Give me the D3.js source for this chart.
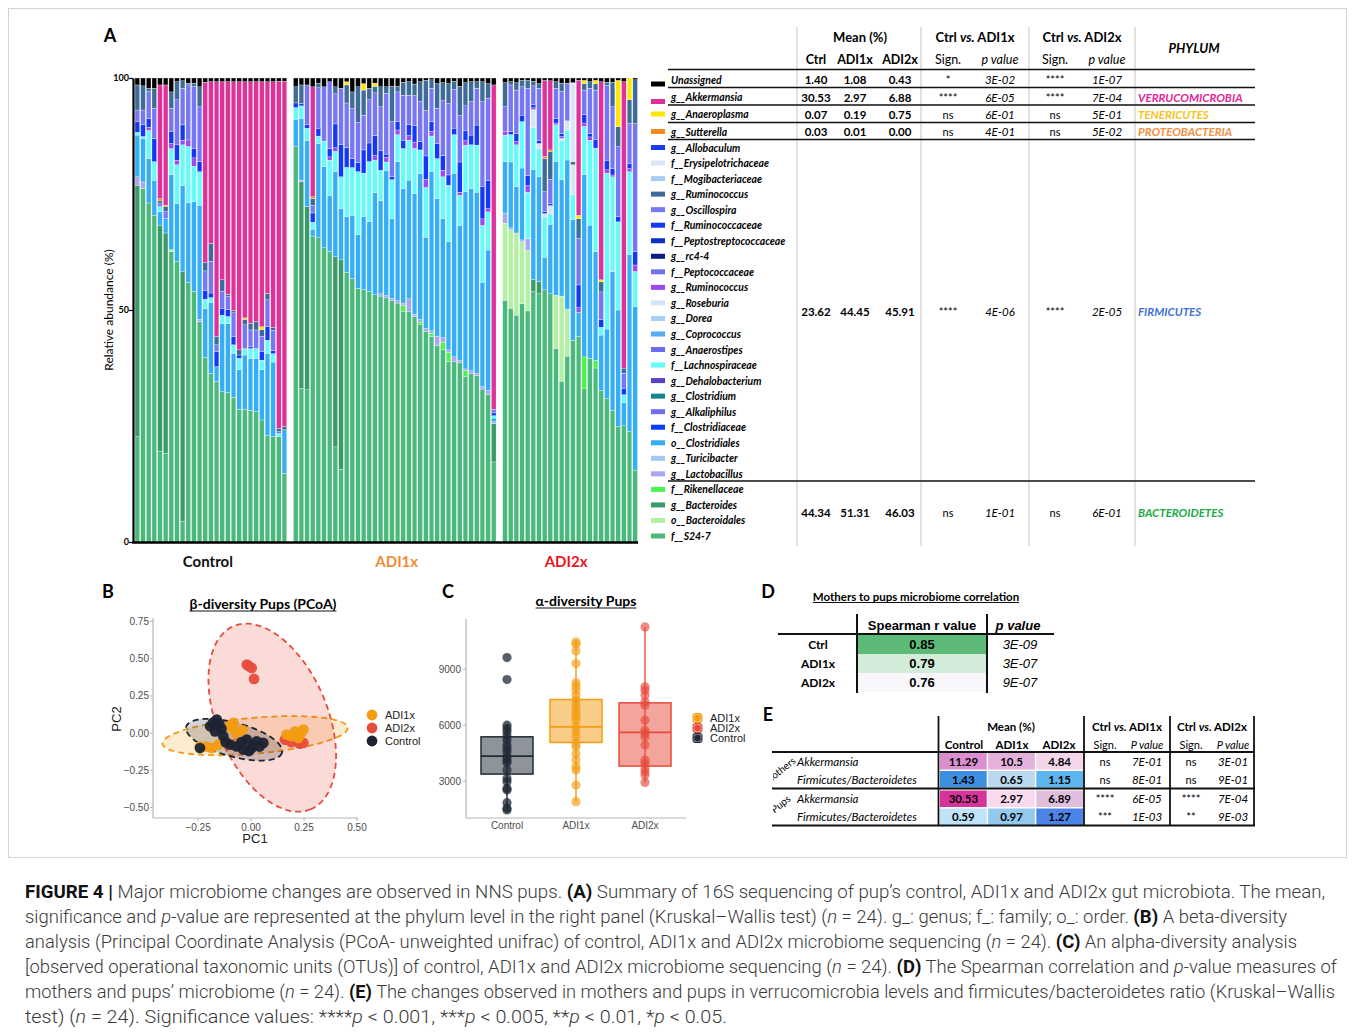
<!DOCTYPE html>
<html>
<head>
<meta charset="utf-8">
<script src="https://d3js.org/d3.v7.min.js"></script>
<style>
body{margin:0;background:#fff;}
svg{display:block;}
</style>
</head>
<body>
<div id="figure"></div>
<script>
// ---------- panel A : relative abundance per pup ----------
const groups = ['Control', 'ADI1x', 'ADI2x'];
const groupSizes = [27, 36, 24];
const groupColors = ['#111111', '#f08c36', '#e8161c'];

const s24 = [].concat(
  [22.7,76.2,72.4,70.3,19.6,19.1,62.6,60.4,4.5,56.1,54.0,47.5,39.9,36.7,34.6,32.4,32.2,31.2,28.6,28.6,28.4,28.1,26.3,22.9,22.7,22.7,14.8],
  [85.6,33.1,32.8,66.2,65.5,63.4,62.6,20.5,15.7,58.3,56.8,54.7,54.4,54.0,53.3,53.0,52.6,52.0,51.5,49.6,49.6,48.6,46.8,45.4,44.3,42.2,41.4,38.9,38.9,38.6,35.7,36.4,35.7,32.9,31.8,17.3],
  [52.1,50.4,48.9,51.4,49.6,53.9,53.5,53.9,53.5,41.7,34.6,39.9,43.5,44.3,33.0,39.6,37.5,32.7,30.9,28.4,24.9,24.9,23.8,15.5]);
const bales = [].concat(
  [0,0,0,0,0,0,0.4,0,0,0, 0,0,0,0,0,0,0,0,0,0, 0,0,0,0,0,0,0],
  [0,0,0,0,0,0,0,0,0,0, 0,0,0,0,0,0,0,0,0,0, 0,0,0,0,0,0,0,0,0,0, 0,0,0,0,0,0],
  [16.6,16.9,17.7,13.3,13.0,0,0,0,0,11.5, 18.3,10.1,0,0,0,0,0,0,0,0, 0,0,0,0]);
const bdes = [].concat(
  [54.2,0,0,0,48.7,47.5,0,0,53.7,0, 0,0,0,0,0,0,0,0,0,0, 0,0,0,0,0,0,0],
  [0,44.5,39.5,0,0,0,0,41.0,45.1,0, 0,0,0,0,0,0,0,0,0,0, 0,0,0,0,0,0,0,0,0,0, 0,0,0,0,0,8.3],
  [0,0,0,0,0,2.6,2.6,0,0,0, 0,0,0,0,0,0,0,0,0,0, 0,0,0,0]);
const rik = [].concat(
  [0,0,0,0,0,0,0,0,0,0, 0,0,0,0,0,0,0,0,0,0, 0,0,0,0,0,0,0],
  [0,0,0,0,0,0,0,0,0,0, 0,0,0,0,0,0,0,0,0,1.4, 0,0,0.6,0,0.7,0,1.6,2.0,0,0, 1.2,0,0,0,0,0],
  [0,0,0,0,0,0,0,0,0,0, 0,0,0,0,6.9,0,1.7,0,0,0, 0,0,0,0]);
const lacto = [].concat(
  [1.8,1.4,0,0,0,0,0,0,0,0, 0,0.5,0,0,0,0,0,0,0,0, 0,0,0,0,0,0,0],
  [0,0.4,0,0,0,0,0,0,0,0, 0,0,0,0,0,0.5,0.5,0.5,0.5,0.5, 2.8,0.5,0.6,0.6,0.5,2.0,1.0,0.5,1.0,0.5, 0.4,0.5,0.5,0.5,0.8,0.4],
  [2.2,0.4,0,0.4,2.5,0,0,0,0,0, 0,0,0,0,0,0,0,0,0,0, 0,0,0,0]);
const clos = [].concat(
  [9.0,9.4,9.5,7.5,2.9,3.2,16.2,12.4,18.6,17.2,19.3,24.6,10.5,15.5,3.2,14.7,14.9,9.5,8.5,11.7,11.2,11.5,10.8,17.8,16.0,0,9.4],
  [6.0,13.3,14.3,1.5,20.3,17.5,12.1,18.3,11.1,12.0,13.6,11.5,15.7,15.0,22.0,20.1,27.0,17.2,30.0,24.7,25.6,26.0,31.4,19.7,34.4,29.5,25.7,23.3,39.6,29.1,38.2,39.3,38.9,22.5,30.2,0.8],
  [11.1,14.2,10.0,15.5,0,23.7,22.6,7.0,15.0,28.8,25.1,32.0,26.0,5.2,39.3,28.7,23.4,11.9,15.0,29.9,25.1,5.0,38.1,35.3]);
const lach = [].concat(
  [0.6,0.4,6.0,4.0,1.1,0,5.6,8.4,8.7,12.2,7.6,7.2,2.1,1.0,0,1.8,1.5,1.8,2.5,1.4,2.1,2.1,2.1,2.8,1.8,0.7,0],
  [2.5,2.7,2.6,1.5,1.6,5.5,7.6,4.4,6.8,10.7,10.3,13.6,9.4,13.0,7.0,6.5,1.8,8.4,5.8,8.6,8.6,9.7,5.1,10.7,7.6,8.6,9.0,12.2,8.3,6.5,10.0,9.4,10.1,12.2,8.2,0.5],
  [5.7,5.9,9.0,10.0,10.0,9.0,6.1,8.6,2.2,7.9,8.4,6.4,5.3,0,10.4,18.3,22.3,1.7,33.6,20.4,19.0,1.7,17.9,7.5]);
const rose = [].concat(
  [0,0,0,0,0,0,0,0,0,0, 0,0,0,0,0,0,0,0,0,0, 0,0,0,0,0,0,0],
  [0,0,0,0,0,0,0,0,0,0, 0,0,0,0,0,0,0,0,0,0, 0,0,0,0,0,0,0,0,0,0, 0,0,0,0,0,0],
  [0,0,0,0,0,3.9,1.1,0.7,1.8,0, 0.4,2.0,6.5,0,0,0,0,0,0,0, 0,0,0,0]);
const rumP = [].concat(
  [0,0,0.7,0,0,0,1.1,1.0,1.0,1.4, 1.8,0,0,0,0,0,0,0,0,0, 0,0,0,0,0,0,0],
  [0,0,0,0,0,0,0.7,0.8,0,0, 0,0,0,0,1.0,0,1.0,0,1.0,0, 1.0,1.4,0,1.8,1.0,0,1.4,0,0,0.7, 1.0,0,0,1.4,0.7,0],
  [0.7,0,0.7,0,1.4,0.4,0,0,0,0.4, 0.4,0,0,1.0,0.7,0.7,0,0,0.7,0.4, 0,0,0.7,1.4]);
const rumf = [].concat(
  [2.3,2.5,1.8,5.0,0,0,2.5,3.3,3.3,0,2.1,2.2,1.8,1.0,3.2,1.5,1.5,1.8,0.7,0,0.4,0,1.8,2.9,0.7,0,0],
  [1.0,0.5,0.7,2.0,1.7,0,1.8,5.1,6.9,4.3,1.9,2.0,5.0,4.0,4.3,4.2,0.7,0.7,1.8,1.8,2.3,3.6,1.8,5.0,2.1,3.2,3.2,2.2,1.4,6.5,2.1,2.1,4.3,6.9,6.1,0.6],
  [0,0.7,1.8,1.4,2.2,0.7,0.7,0.4,0.4,1.0,0.7,0,0,4.9,1.8,0.7,1.8,1.6,2.1,1.4,1.1,1.4,1.1,2.9]);
const osc = [].concat(
  [2.5,3.2,5.8,6.5,0.6,1.4,5.1,9.7,7.9,11.9,13.3,11.8,4.3,6.9,1.5,3.6,2.8,5.1,0,5.1,3.6,4.0,3.3,5.8,4.3,0.4,0],
  [0,0,8.6,1.6,8.7,11.7,14.4,6.5,12.2,9.6,10.8,8.6,7.5,9.3,9.2,9.5,13.1,11.8,6.4,9.7,6.4,6.4,8.6,9.8,7.2,7.6,11.8,15.4,8.3,10.0,5.4,7.2,7.9,18.3,17.6,0.8],
  [5.4,10.0,9.3,6.1,18.7,4.0,11.2,4.3,5.3,6.5,9.0,8.1,0,10.0,5.3,9.8,10.7,6.0,16.1,13.3,15.1,3.2,8.6,27.6]);
const rumS = [].concat(
  [5.4,5.2,0.7,4.3,0.6,1.1,3.5,3.9,1.6,0.4,0.7,4.3,1.8,3.9,1.8,2.5,0.5,0.5,1.1,1.2,1.4,1.8,1.5,1.4,0.7,0.7,0.7],
  [3.5,4.0,0,1.5,1.0,0,0,1.5,0,3.9,3.6,7.7,5.4,2.5,1.4,4.3,1.4,7.6,1.2,2.8,2.9,2.5,4.3,6.5,1.8,5.3,3.9,4.3,1.8,6.3,5.0,4.3,1.4,4.3,3.2,0],
  [5.2,0.7,1.6,1.4,1.7,1.0,1.0,7.1,5.9,1.4,1.8,0,0.7,4.3,1.4,1.4,1.4,2.2,0.7,5.3,4.3,1.1,5.1,9.4]);
const ery = [].concat(
  [0,0,0,0,0,0,0,0,0,0, 0,0,0,0,0,0,0,0,0,0, 0,0,0,0,0,0,0],
  [0,0,0,0,0,0,0,0,0,0, 0,0,0,0,0,0,0,0,0,0, 0,0,0,0,0,0,0,0,0,0, 0,0,0,0,0,0],
  [0,0,0,0,0,0,0,0,0,0, 0,0,17.0,0,0,0,0,0,0,0, 0,0,0,0]);
const sutt = [].concat(
  [0,0,0,0,0.5,0.3,0,0,0,0, 0,0,0,0,0,0,0,0,0,0, 0,0,0,0,0,0,0],
  [0,0,0,0.4,0,0,0,0,0,0, 0,0,0,0,0,0,0,0,0,0, 0,0,0,0,0,0,0,0,0,0, 0,0,0,0,0,0],
  [0,0,0,0,0,0,0,0.4,0.4,0, 0,0,0,0,0,0,0,0,0,0, 0,0,0,0]);
const anae = [].concat(
  [0,0,0,0,0,0,0,0,0,0, 0,0,0,0,0,0,0,0,0,0.3, 0,0,0.6,0,0,0,0],
  [0,0,0,0,0,0,0,0,0,0.7, 0,0,1.4,0,0.7,0,0,0,0,0, 0,0,0,0,0,0,0,0,0,0, 0,0,0,0,0,0],
  [0,0,0,0,0,0,0,0,0,0, 0,0,0,0.7,0.7,0,0.7,0.4,0,0, 10.0,0,4.7,0]);
const akk = [].concat(
  [0,0,0,0,24.5,25.9,0,0,0,0,0,0,39.0,35.2,54.9,42.7,45.8,49.3,57.8,50.9,52.1,51.7,52.8,45.6,52.8,74.8,74.4],
  [0,0,0,23.8,0,0,0,0,0,0, 0,0,0,0,0,0,0,0,0,0, 0,0,0,0,0,0,0,0,0,0, 0,0,0,0,0,70.1],
  [0,0,0,0,0,0,0,16.3,14.9,0, 0,0,0,29.1,0,0,0,42.7,0,0, 0,61.4,0,0]);
const unas = [].concat(
  [1.5,1.7,2.2,2.2,1.5,1.5,3.0,0.8,0.6,1.1,1.1,1.9,0.9,0.8,0.8,0.8,0.8,0.8,0.8,0.8,0.8,0.8,0.8,0.8,0.8,0.7,0.7],
  [1.9,1.5,1.5,1.9,1.1,1.9,0.8,1.9,2.2,0.8,3.0,1.9,1.2,2.2,1.1,1.9,1.9,1.8,1.8,0.9,0.8,1.3,0.8,0.5,0.4,1.2,1.0,1.2,0.7,1.8,1.0,0.8,0.8,0.8,1.2,1.5],
  [1.0,0.8,1.0,0.5,0.5,0.7,1.2,0.5,0.6,0.8,1.1,1.1,1.0,0.5,0.5,0.8,0.5,0.8,0.9,0.9,0.5,0.8,0,0.4]);

const legendNames = ['Unassigned','g__Akkermansia','g__Anaeroplasma','g__Sutterella','g__Allobaculum',
  'f__Erysipelotrichaceae','f__Mogibacteriaceae','g__Ruminococcus','g__Oscillospira','f__Ruminococcaceae',
  'f__Peptostreptococcaceae','g__rc4-4','f__Peptococcaceae','g__Ruminococcus','g__Roseburia','g__Dorea',
  'g__Coprococcus','g__Anaerostipes','f__Lachnospiraceae','g__Dehalobacterium','g__Clostridium',
  'g__Alkaliphilus','f__Clostridiaceae','o__Clostridiales','g__Turicibacter','g__Lactobacillus',
  'f__Rikenellaceae','g__Bacteroides','o__Bacteroidales','f__S24-7'];
const legendColors = ['#000000','#e0309a','#ffe600','#f58a1f','#1a3cf5','#d8e6f7','#a9cdf2','#3e6b97',
  '#7777f4','#1438f5','#0c2fc4','#0b1e85','#7373ee','#9a4bef','#d5e5f7','#a9cff5','#58aaf4','#6b6bf0',
  '#66fafa','#5a3ec6','#13878f','#6f6ff2','#0a3cff','#35aef5','#a5c8f5','#a8a6f5','#4df24d','#3b9b68',
  '#b2f0a3','#4cb97c'];

// phylum summary table
const tabCtrl = ['1.40','30.53','0.07','0.03','23.62','44.34'];
const tabADI1 = ['1.08','2.97','0.19','0.01','44.45','51.31'];
const tabADI2 = ['0.43','6.88','0.75','0.00','45.91','46.03'];
const tabSign1 = ['*','****','ns','ns','****','ns'];
const tabP1 = ['3E-02','6E-05','6E-01','4E-01','4E-06','1E-01'];
const tabSign2 = ['****','****','ns','ns','****','ns'];
const tabP2 = ['1E-07','7E-04','5E-01','5E-02','2E-05','6E-01'];
const tabPhylum = ['','VERRUCOMICROBIA','TENERICUTES','PROTEOBACTERIA','FIRMICUTES','BACTEROIDETES'];

// ---------- panel B : PCoA ----------
const pcoaADI1x = [[-0.083,0.069],[-0.091,0.035],[-0.068,0.001],[-0.154,-0.077],[-0.186,-0.10],[-0.241,-0.089],
  [0.168,-0.01],[0.208,0.012],[0.247,0.024],[0.223,-0.032],[-0.068,-0.077],[-0.10,0.05],[-0.04,0.02],
  [0.19,-0.02],[0.235,0.0],[-0.21,-0.09],[-0.12,-0.05]];
const pcoaADI2x = [[-0.020,0.46],[0.003,0.438],[0.014,0.364],[-0.01,0.45],[0.160,-0.044],[0.247,-0.066],
  [0.216,-0.044],[0.19,-0.06],[0.23,-0.07],[-0.07,-0.07],[0.17,-0.04]];
const pcoaControl = [[-0.162,0.091],[-0.193,0.046],[-0.170,0.012],[-0.131,-0.021],[-0.099,-0.077],[-0.068,-0.089],
  [-0.020,-0.044],[0.003,-0.10],[0.027,-0.055],[0.058,-0.066],[-0.241,-0.10],[-0.036,-0.111],[-0.150,0.06],
  [-0.120,-0.060],[0.010,-0.080],[-0.045,-0.06],[0.040,-0.09],[-0.010,-0.12],[-0.180,0.07],[-0.140,0.03]];
// confidence ellipses: centre and two half-axis vectors (data units)
const ellCentre = [[0.019,-0.017],[0.10,0.104],[-0.080,-0.044]];
const ellAxisU = [[0.437,0.054],[0.182,-0.615],[0.226,-0.087]];
const ellAxisV = [[0.0074,-0.120],[-0.240,-0.144],[-0.021,-0.110]];
const pcoaTicksX = [-0.25, 0, 0.25, 0.5];
const pcoaTicksY = [-0.5, -0.25, 0, 0.25, 0.5, 0.75];

// ---------- panel C : observed OTUs ----------
const otuControl = [9625,8448,6000,5821,5643,5411,5196,4929,4750,4571,4304,4125,3982,3589,3143,2964,2607,2518,1839,1536,1450];
const otuADI1x = [10464,10339,9982,9304,8268,8089,7875,7607,7339,7071,6893,6625,6446,6268,5911,5643,5375,5018,4839,4482,4125,3768,3589,2786,1893];
const otuADI2x = [11268,8054,7875,7607,7250,7071,6268,5732,5554,5375,4929,4125,3946,3679,3500,3321,2929];
const boxQ1 = [3375, 5071, 3804];
const boxMedian = [4339, 5911, 5607];
const boxQ3 = [5373, 7375, 7196];
const whiskLow = [1450, 1893, 2929];
const whiskHigh = [6000, 10464, 11268];
const otuTicks = [3000, 6000, 9000];

// ---------- panel D ----------
const corrGroups = ['Ctrl','ADI1x','ADI2x'];
const corrR = [0.85, 0.79, 0.76];
const corrP = ['3E-09','3E-07','9E-07'];

// ---------- panel E ----------
const eRowNames = ['Akkermansia','Firmicutes/Bacteroidetes','Akkermansia','Firmicutes/Bacteroidetes'];
const eControl = ['11.29','1.43','30.53','0.59'];
const eADI1x = ['10.5','0.65','2.97','0.97'];
const eADI2x = ['4.84','1.15','6.89','1.27'];
const eSign1 = ['ns','ns','****','***'];
const eP1 = ['7E-01','8E-01','6E-05','1E-03'];
const eSign2 = ['ns','ns','****','**'];
const eP2 = ['3E-01','9E-01','7E-04','9E-03'];
const eFill = [['#d98fd0','#e3b1dc','#f3d6ea'],['#3f8fe0','#b9d9ef','#5cb5ec'],
               ['#d6349b','#fad9ef','#dfbfdd'],['#bfe3f9','#93c9ec','#4c83e6']];

// ---------- caption ----------
const captionLines = [
  [['FIGURE 4 | ','b'],['Major microbiome changes are observed in NNS pups. ',''],['(A)','b'],[' Summary of 16S sequencing of pup\u2019s control, ADI1x and ADI2x gut microbiota. The mean,','']],
  [['significance and ',''],['p','i'],['-value are represented at the phylum level in the right panel (Kruskal\u2013Wallis test) (',''],['n','i'],[' = 24). g_: genus; f_: family; o_: order. ',''],['(B)','b'],[' A beta-diversity','']],
  [['analysis (Principal Coordinate Analysis (PCoA- unweighted unifrac) of control, ADI1x and ADI2x microbiome sequencing (',''],['n','i'],[' = 24). ',''],['(C)','b'],[' An alpha-diversity analysis','']],
  [['[observed operational taxonomic units (OTUs)] of control, ADI1x and ADI2x microbiome sequencing (',''],['n','i'],[' = 24). ',''],['(D)','b'],[' The Spearman correlation and ',''],['p','i'],['-value measures of','']],
  [['mothers and pups\u2019 microbiome (',''],['n','i'],[' = 24). ',''],['(E)','b'],[' The changes observed in mothers and pups in verrucomicrobia levels and firmicutes/bacteroidetes ratio (Kruskal\u2013Wallis','']],
  [['test) (',''],['n','i'],[' = 24). Significance values: ****',''],['p','i'],[' < 0.001, ***',''],['p','i'],[' < 0.005, **',''],['p','i'],[' < 0.01, *',''],['p','i'],[' < 0.05.','']]
];
const captionWidths = [1300, 1262, 1272, 1312, 1310, 702];

// =====================================================================
const svg = d3.select('#figure').append('svg')
  .attr('width', 1355).attr('height', 1035)
  .style('font-family', 'Lato, "Open Sans", sans-serif');

function label(g, x, y, s, size, opts = {}) {
  return g.append('text').attr('x', x).attr('y', y).text(s)
    .attr('font-size', size)
    .attr('font-weight', opts.w || 'normal')
    .attr('font-style', opts.i ? 'italic' : 'normal')
    .attr('text-anchor', opts.a || 'middle')
    .attr('dominant-baseline', 'central')
    .attr('fill', opts.c || '#000')
    .style('font-family', opts.f || null);
}
function underline(t, y) {
  const n = t.node(), len = n.getComputedTextLength();
  const x = +t.attr('x') - len / 2;
  d3.select(n.parentNode).append('line')
    .attr('x1', x).attr('x2', x + len).attr('y1', y).attr('y2', y)
    .attr('stroke', '#111').attr('stroke-width', 1.2);
}

// frame around the panels
svg.append('rect').attr('x', 8.5).attr('y', 8.5).attr('width', 1338).attr('height', 849)
  .attr('fill', 'none').attr('stroke', '#d4d4d4');

// ---------------- panel A ----------------
const keys = ['s24','bales','bdes','rik','lacto','clos','lach','rose','rumP','rumf','osc','rumS','ery','sutt','anae','akk','unas'];
const series = {s24,bales,bdes,rik,lacto,clos,lach,rose,rumP,rumf,osc,rumS,ery,sutt,anae,akk,unas};
const keyColor = {s24:legendColors[29], bales:legendColors[28], bdes:legendColors[27], rik:legendColors[26],
  lacto:legendColors[25], clos:legendColors[23], lach:legendColors[18], rose:legendColors[14], rumP:legendColors[13],
  rumf:legendColors[9], osc:legendColors[8], rumS:legendColors[7], ery:legendColors[5], sutt:legendColors[3],
  anae:legendColors[2], akk:legendColors[1], unas:legendColors[0]};

const slots = [], rows = [], groupIds = [];
let n = 0;
groups.forEach((g, gi) => {
  if (gi > 0) slots.push('gap' + gi);
  const ids = [];
  for (let i = 0; i < groupSizes[gi]; i++) {
    const r = {id: g + '-' + i};
    keys.forEach(k => r[k] = series[k][n]);
    rows.push(r); slots.push(r.id); ids.push(r.id); n++;
  }
  groupIds.push(ids);
});

const xA = d3.scaleBand().domain(slots).range([135, 637.5]).paddingInner(0.17);
const yA = d3.scaleLinear().domain([0, 1]).range([542, 78]);
const stacked = d3.stack().keys(keys).offset(d3.stackOffsetExpand)(rows);

const gA = svg.append('g');
gA.selectAll('g.layer').data(stacked).join('g').attr('class', 'layer')
  .attr('fill', d => keyColor[d.key])
  .selectAll('rect').data(d => d.filter(p => p[1] - p[0] > 0)).join('rect')
  .attr('x', d => xA(d.data.id)).attr('width', xA.bandwidth())
  .attr('y', d => yA(d[1])).attr('height', d => yA(d[0]) - yA(d[1]))
  .attr('stroke', '#fff').attr('stroke-width', 0.3);

const axA = svg.append('g').attr('transform', 'translate(133,0)')
  .call(d3.axisLeft(yA).tickValues([0, 0.5, 1]).tickFormat(d => d * 100).tickSize(4).tickSizeOuter(0));
axA.select('.domain').attr('stroke-width', 2.2);
axA.selectAll('.tick line').attr('stroke-width', 1.2);
axA.selectAll('.tick text').attr('font-size', 9).attr('font-weight', 'bold').attr('x', -4)
  .style('font-family', 'Lato, sans-serif');
svg.append('line').attr('x1', 132).attr('x2', 638).attr('y1', 542.5).attr('y2', 542.5)
  .attr('stroke', '#000').attr('stroke-width', 2.5);

label(svg, 0, 0, 'Relative abundance (%)', 12).attr('transform', 'translate(108,310) rotate(-90)');
const groupLabelShift = [-3, 2, -4];
groups.forEach((g, gi) => {
  const ids = groupIds[gi];
  const mid = (xA(ids[0]) + xA(ids[ids.length - 1]) + xA.bandwidth()) / 2;
  label(svg, mid + groupLabelShift[gi], 561, g, 15, {w: 'bold', c: groupColors[gi]});
});
label(svg, 110, 35, 'A', 18, {w: 'bold'});

// legend
const legY = d3.scaleLinear().domain([4, 29]).range([147.5, 536]);
const legRowY = legendNames.map((d, i) => i < 4 ? [79.5, 97, 114, 131.5][i] : legY(i));
const gLeg = svg.append('g');
legendNames.forEach((name, i) => {
  const y = legRowY[i];
  gLeg.append('rect').attr('x', 651).attr('y', y - 2.5 + (i < 2 ? 4.5 : 0)).attr('width', 14).attr('height', 5)
    .attr('fill', legendColors[i]);
  label(gLeg, 671, y, name, 10.4, {a: 'start', w: 'bold', i: true});
});

// phylum table
const gT = svg.append('g');
[797, 921, 1029, 1135].forEach(x => gT.append('line').attr('x1', x).attr('x2', x).attr('y1', 27).attr('y2', 546)
  .attr('stroke', '#cfcfcf').attr('stroke-width', 1.2));
[69.5, 87.5, 105, 122.5, 139.5, 481].forEach(y => gT.append('line').attr('x1', 668).attr('x2', 1255)
  .attr('y1', y).attr('y2', y).attr('stroke', '#111').attr('stroke-width', 1.4));
label(gT, 860, 37, 'Mean (%)', 13, {w: 'bold'});
label(gT, 816, 59, 'Ctrl', 12.5, {w: 'bold'});
label(gT, 855, 59, 'ADI1x', 12.5, {w: 'bold'});
label(gT, 900, 59, 'ADI2x', 12.5, {w: 'bold'});
[[975, 948, 1000, 'ADI1x'], [1082, 1055, 1107, 'ADI2x']].forEach(([cx, sx, px, g]) => {
  const t = label(gT, cx, 37, '', 13, {w: 'bold'});
  t.append('tspan').text('Ctrl ');
  t.append('tspan').attr('font-style', 'italic').text('vs.');
  t.append('tspan').text(' ' + g);
  label(gT, sx, 59, 'Sign.', 12.5);
  label(gT, px, 59, 'p value', 12.5, {i: true});
});
label(gT, 1194, 48, 'PHYLUM', 13, {w: 'bold', i: true});
const phylumColor = ['#000', '#e0289a', '#f7c31a', '#f29045', '#3f72d6', '#1cab45'];
[79, 97, 114, 131, 311, 512].forEach((y, r) => {
  label(gT, 816, y, tabCtrl[r], 11.5, {w: 'bold'});
  label(gT, 855, y, tabADI1[r], 11.5, {w: 'bold'});
  label(gT, 900, y, tabADI2[r], 11.5, {w: 'bold'});
  label(gT, 948, y, tabSign1[r], 11);
  label(gT, 1000, y, tabP1[r], 11.5, {i: true});
  label(gT, 1055, y, tabSign2[r], 11);
  label(gT, 1107, y, tabP2[r], 11.5, {i: true});
  label(gT, 1138, y, tabPhylum[r], 11.5, {a: 'start', w: 'bold', i: true, c: phylumColor[r]});
});

// ---------------- panel B ----------------
const sans = '"Liberation Sans", Arial, sans-serif';
const gB = svg.append('g').style('font-family', sans);
const xB = d3.scaleLinear().domain([-0.458, 0.5]).range([154, 357]);
const yB = d3.scaleLinear().domain([-0.57, 0.76]).range([818, 620]);
const groupB = ['ADI1x', 'ADI2x', 'Control'];
const colB = ['#f39c12', '#e74c3c', '#1c2331'];

gB.append('line').attr('x1', 153).attr('x2', 153).attr('y1', 618).attr('y2', 818).attr('stroke', '#b5b5b5').attr('stroke-width', 1.2);
gB.append('line').attr('x1', 153).attr('x2', 358).attr('y1', 818).attr('y2', 818).attr('stroke', '#b5b5b5').attr('stroke-width', 1.2);
pcoaTicksX.forEach(v => {
  gB.append('line').attr('x1', xB(v)).attr('x2', xB(v)).attr('y1', 818).attr('y2', 821).attr('stroke', '#b5b5b5');
  label(gB, xB(v), 827, v === 0 ? '0.00' : (v < 0 ? '\u2212' : '') + Math.abs(v).toFixed(2), 10, {c: '#4d4d4d', f: sans});
});
pcoaTicksY.forEach(v => {
  gB.append('line').attr('x1', 150).attr('x2', 153).attr('y1', yB(v)).attr('y2', yB(v)).attr('stroke', '#b5b5b5');
  label(gB, 149, yB(v), v === 0 ? '0.00' : (v < 0 ? '\u2212' : '') + Math.abs(v).toFixed(2), 10, {a: 'end', c: '#4d4d4d', f: sans});
});
label(gB, 255, 838, 'PC1', 13, {c: '#222', f: sans});
label(gB, 0, 0, 'PC2', 13, {c: '#222', f: sans}).attr('transform', 'translate(116,719) rotate(-90)');
underline(label(gB, 263, 603, '\u03b2-diversity Pups (PCoA)', 14, {w: 'bold', f: 'Lato, sans-serif'}), 611);
label(svg, 108, 591, 'B', 18, {w: 'bold'});

const ellLine = d3.line().curve(d3.curveLinearClosed);
const angles = d3.range(0, 360, 3).map(a => a * Math.PI / 180);
[0, 1, 2].forEach(i => {
  const pts = angles.map(t => [
    xB(ellCentre[i][0] + ellAxisU[i][0] * Math.cos(t) + ellAxisV[i][0] * Math.sin(t)),
    yB(ellCentre[i][1] + ellAxisU[i][1] * Math.cos(t) + ellAxisV[i][1] * Math.sin(t))]);
  gB.append('path').attr('d', ellLine(pts)).attr('fill', colB[i]).attr('fill-opacity', 0.2)
    .attr('stroke', colB[i]).attr('stroke-width', 1.8).attr('stroke-dasharray', '6,4');
});
[[pcoaADI2x, 1], [pcoaADI1x, 0], [pcoaControl, 2]].forEach(([pts, i]) => {
  gB.append('g').selectAll('circle').data(pts).join('circle')
    .attr('cx', d => xB(d[0])).attr('cy', d => yB(d[1])).attr('r', 5.4)
    .attr('fill', colB[i]).attr('fill-opacity', 0.95);
});
groupB.forEach((g, i) => {
  const y = 715 + i * 13;
  gB.append('circle').attr('cx', 372).attr('cy', y).attr('r', 5.4).attr('fill', colB[i]);
  label(gB, 385, y, g, 11, {a: 'start', c: '#222', f: sans});
});

// ---------------- panel C ----------------
const gC = svg.append('g').style('font-family', sans);
const groupC = ['Control', 'ADI1x', 'ADI2x'];
const colC = ['#1f2a36', '#f39c12', '#e74c3c'];
const otu = [otuControl, otuADI1x, otuADI2x];
const xC = d3.scalePoint().domain(groupC).range([507, 645]);
const yC = d3.scaleLinear().domain([1018, 11640]).range([818, 620]);
gC.append('line').attr('x1', 466).attr('x2', 466).attr('y1', 619).attr('y2', 818).attr('stroke', '#b5b5b5').attr('stroke-width', 1.2);
gC.append('line').attr('x1', 466).attr('x2', 686).attr('y1', 818).attr('y2', 818).attr('stroke', '#b5b5b5').attr('stroke-width', 1.2);
otuTicks.forEach(v => {
  gC.append('line').attr('x1', 463).attr('x2', 466).attr('y1', yC(v)).attr('y2', yC(v)).attr('stroke', '#b5b5b5');
  label(gC, 461, yC(v), v, 10, {a: 'end', c: '#4d4d4d', f: sans});
});
groupC.forEach((g, i) => {
  const cx = xC(g);
  label(gC, cx, 825, g, 10, {c: '#4d4d4d', f: sans});
  gC.append('line').attr('x1', cx).attr('x2', cx).attr('y1', yC(whiskHigh[i])).attr('y2', yC(whiskLow[i]))
    .attr('stroke', colC[i]).attr('stroke-width', 1.4);
  gC.append('rect').attr('x', cx - 26).attr('width', 52)
    .attr('y', yC(boxQ3[i])).attr('height', yC(boxQ1[i]) - yC(boxQ3[i]))
    .attr('fill', colC[i]).attr('fill-opacity', 0.5).attr('stroke', colC[i]).attr('stroke-width', 1.5);
  gC.append('line').attr('x1', cx - 26).attr('x2', cx + 26).attr('y1', yC(boxMedian[i])).attr('y2', yC(boxMedian[i]))
    .attr('stroke', colC[i]).attr('stroke-width', 1.8);
  gC.append('g').selectAll('circle').data(otu[i]).join('circle')
    .attr('cx', cx).attr('cy', d => yC(d)).attr('r', 4.6)
    .attr('fill', colC[i]).attr('fill-opacity', i === 0 ? 0.75 : 0.65);
});
['ADI1x', 'ADI2x', 'Control'].forEach((g, i) => {
  const y = 718 + i * 10;
  const c = colC[groupC.indexOf(g)];
  gC.append('rect').attr('x', 693).attr('y', y - 4.5).attr('width', 9).attr('height', 9).attr('rx', 2)
    .attr('fill', c).attr('fill-opacity', 0.6).attr('stroke', c);
  gC.append('circle').attr('cx', 697.5).attr('cy', y).attr('r', 3.2).attr('fill', c);
  label(gC, 710, y, g, 11, {a: 'start', c: '#222', f: sans});
});
underline(label(gC, 586, 600, '\u03b1-diversity Pups', 14, {w: 'bold', f: 'Lato, sans-serif'}), 608);
label(svg, 448, 591, 'C', 18, {w: 'bold'});

// ---------------- panel D ----------------
const gD = svg.append('g');
label(svg, 768, 591, 'D', 18, {w: 'bold'});
underline(label(gD, 916, 596, 'Mothers to pups microbiome correlation', 11.5, {w: 'bold'}), 602.5);
const yD = d3.scaleBand().domain(corrGroups).range([635, 692]);
const rColor = d3.scaleLinear().domain([0.76, 0.79, 0.85]).range(['#f8f6fb', '#d3ecda', '#5db976']);
gD.selectAll('rect.cell').data(corrGroups).join('rect').attr('class', 'cell')
  .attr('x', 858).attr('width', 128).attr('y', g => yD(g)).attr('height', yD.bandwidth())
  .attr('fill', (g, i) => rColor(corrR[i]));
corrGroups.forEach((g, i) => {
  const y = yD(g) + yD.bandwidth() / 2;
  label(gD, 818, y, g, 12, {w: 'bold'});
  label(gD, 922, y, corrR[i].toFixed(2), 13, {w: 'bold', f: sans});
  label(gD, 1020, y, corrP[i], 13, {i: true, f: sans});
});
label(gD, 922, 625, 'Spearman r value', 13, {w: 'bold', f: sans});
label(gD, 1018, 625, 'p value', 13, {w: 'bold', i: true, f: sans});
gD.append('line').attr('x1', 778).attr('x2', 1054).attr('y1', 634).attr('y2', 634).attr('stroke', '#111').attr('stroke-width', 2);
[857, 987].forEach(x => gD.append('line').attr('x1', x).attr('x2', x).attr('y1', 614).attr('y2', 693)
  .attr('stroke', '#111').attr('stroke-width', 2));

// ---------------- panel E ----------------
const gE = svg.append('g');
label(svg, 768, 714, 'E', 18, {w: 'bold'});
const yE = d3.scaleBand().domain(d3.range(4)).range([753, 825]);
const xE = d3.scaleBand().domain([0, 1, 2]).range([940, 1083]).paddingInner(0.03);
const eVals = [eControl, eADI1x, eADI2x];
[0, 1, 2, 3].forEach(r => {
  const y0 = yE(r) + (r >= 2 ? 1.5 : 0), h = yE.bandwidth() - 1.5;
  [0, 1, 2].forEach(c => {
    gE.append('rect').attr('x', xE(c)).attr('width', xE.bandwidth()).attr('y', y0).attr('height', h)
      .attr('fill', eFill[r][c]);
    label(gE, xE(c) + xE.bandwidth() / 2, y0 + h / 2, eVals[c][r], 11.5, {w: 'bold'});
  });
  const yc = y0 + h / 2;
  label(gE, 797, yc, eRowNames[r], 11.5, {a: 'start', i: true});
  label(gE, 1105, yc, eSign1[r], 11);
  label(gE, 1147, yc, eP1[r], 11.5, {i: true});
  label(gE, 1191, yc, eSign2[r], 11);
  label(gE, 1233, yc, eP2[r], 11.5, {i: true});
});
label(gE, 1011, 726, 'Mean (%)', 11.5, {w: 'bold'});
label(gE, 964, 744, 'Control', 11.5, {w: 'bold'});
label(gE, 1012, 744, 'ADI1x', 11.5, {w: 'bold'});
label(gE, 1059, 744, 'ADI2x', 11.5, {w: 'bold'});
[[1127, 1105, 1147, 'ADI1x'], [1212, 1191, 1233, 'ADI2x']].forEach(([cx, sx, px, g]) => {
  const t = label(gE, cx, 726, '', 11.5, {w: 'bold'});
  t.append('tspan').text('Ctrl ');
  t.append('tspan').attr('font-style', 'italic').text('vs.');
  t.append('tspan').text(' ' + g);
  label(gE, sx, 744, 'Sign.', 11);
  label(gE, px, 744, 'P value', 11, {i: true});
});
[752, 788.5, 825.5].forEach(y => gE.append('line').attr('x1', 772).attr('x2', 1255)
  .attr('y1', y).attr('y2', y).attr('stroke', '#111').attr('stroke-width', 2));
[938.5, 1084, 1170, 1254].forEach(x => gE.append('line').attr('x1', x).attr('x2', x).attr('y1', 716).attr('y2', 826)
  .attr('stroke', '#111').attr('stroke-width', 1.8));
svg.append('clipPath').attr('id', 'eclip').append('rect').attr('x', 773).attr('y', 740).attr('width', 40).attr('height', 90);
const gRot = svg.append('g').attr('clip-path', 'url(#eclip)');
label(gRot, 0, 0, 'Mothers', 10, {a: 'end'}).attr('transform', 'translate(794,759) rotate(-38)');
label(gRot, 0, 0, 'Pups', 10, {a: 'end'}).attr('transform', 'translate(789,797) rotate(-38)');

// ---------------- caption ----------------
const gCap = svg.append('g').style('font-family', '"Liberation Sans Narrow", "Roboto", sans-serif');
captionLines.forEach((segs, li) => {
  const t = gCap.append('text').attr('x', 25).attr('y', 898 + li * 25)
    .attr('font-size', 18).attr('fill', '#3a3a3a').attr('font-weight', 300)
    .attr('textLength', captionWidths[li]).attr('lengthAdjust', 'spacingAndGlyphs');
  segs.forEach(([s, st]) => t.append('tspan').text(s)
    .attr('font-weight', st === 'b' ? 'bold' : 300)
    .attr('font-style', st === 'i' ? 'italic' : 'normal')
    .attr('fill', st === 'b' ? '#111' : null));
});
</script>
</body>
</html>
